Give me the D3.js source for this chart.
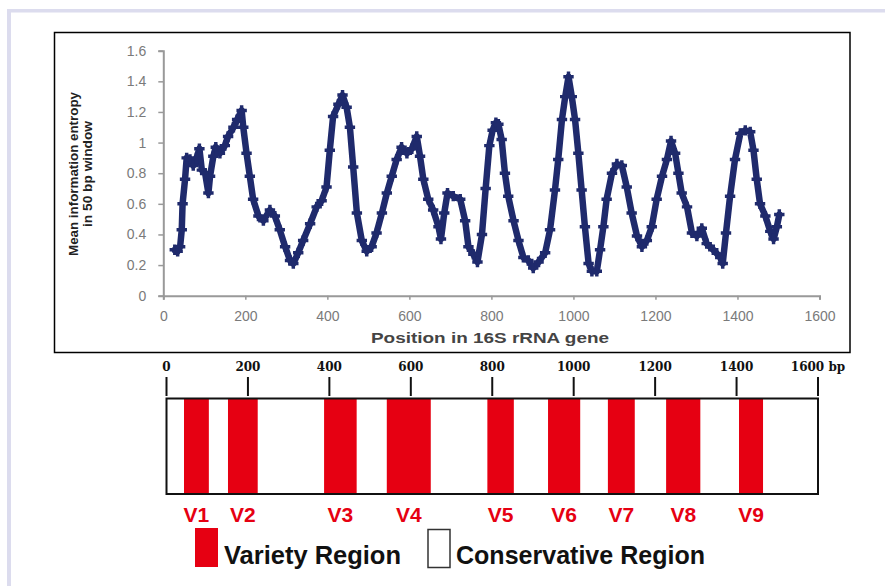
<!DOCTYPE html>
<html>
<head>
<meta charset="utf-8">
<script src="https://cdn.jsdelivr.net/npm/d3@7"></script>
<style>
  body { margin: 0; background: #fff; }
  svg { display: block; }
</style>
</head>
<body>
<div id="chart"></div>
<script>
// entropy curve (position in bp, mean entropy)
var positions = [28, 35, 41, 45, 47, 53, 57, 65, 73, 81, 88, 94, 102, 110, 114, 122, 128, 138, 150, 158,
  171, 180, 191, 195, 203, 211, 219, 232, 244, 260, 272, 284, 297, 309, 317, 329, 341, 358, 374, 386,
  398, 406, 414, 427, 437, 447, 455, 463, 472, 484, 496, 508, 520, 533, 545, 557, 569, 581, 594, 606,
  618, 626, 634, 646, 658, 671, 677, 685, 693, 707, 724, 736, 744, 756, 766, 777, 786, 795, 803, 811,
  817, 825, 833, 841, 854, 866, 878, 890, 902, 915, 931, 943, 955, 963, 972, 980, 988, 996, 1004, 1012,
  1020, 1028, 1037, 1045, 1057, 1065, 1073, 1081, 1094, 1106, 1118, 1130, 1142, 1155, 1167, 1179, 1191, 1203, 1216, 1228,
  1238, 1248, 1256, 1264, 1277, 1289, 1301, 1313, 1325, 1341, 1358, 1364, 1372, 1382, 1394, 1407, 1419, 1431, 1439, 1447,
  1455, 1468, 1480, 1488, 1496, 1502];
var entropy = [0.30, 0.29, 0.32, 0.43, 0.60, 0.76, 0.90, 0.89, 0.85, 0.90, 0.96, 0.82, 0.80, 0.67, 0.78, 0.91, 0.97, 0.93, 0.98, 1.04,
  1.10, 1.15, 1.21, 1.10, 0.93, 0.78, 0.63, 0.52, 0.49, 0.56, 0.52, 0.43, 0.32, 0.23, 0.21, 0.28, 0.36, 0.47, 0.58, 0.62,
  0.71, 0.95, 1.17, 1.25, 1.31, 1.23, 1.10, 0.84, 0.54, 0.36, 0.29, 0.32, 0.41, 0.54, 0.67, 0.78, 0.89, 0.97, 0.93, 0.96,
  1.04, 0.91, 0.76, 0.63, 0.56, 0.45, 0.37, 0.54, 0.67, 0.65, 0.63, 0.49, 0.32, 0.27, 0.22, 0.40, 0.70, 0.98, 1.08, 1.13,
  1.12, 1.02, 0.80, 0.65, 0.49, 0.36, 0.25, 0.23, 0.18, 0.22, 0.28, 0.43, 0.69, 0.89, 1.15, 1.30, 1.43, 1.30, 1.15, 0.93,
  0.69, 0.45, 0.21, 0.16, 0.16, 0.30, 0.45, 0.63, 0.80, 0.86, 0.85, 0.71, 0.54, 0.39, 0.32, 0.36, 0.45, 0.63, 0.78, 0.89,
  1.01, 0.93, 0.80, 0.67, 0.58, 0.41, 0.39, 0.44, 0.34, 0.30, 0.25, 0.21, 0.41, 0.65, 0.89, 1.06, 1.08, 1.07, 0.95, 0.76,
  0.60, 0.52, 0.42, 0.37, 0.45, 0.53];

var xTicks = [0, 200, 400, 600, 800, 1000, 1200, 1400, 1600];
var yTicks = [0, 0.2, 0.4, 0.6, 0.8, 1, 1.2, 1.4, 1.6];
var mapTickLabels = ['0', '200', '400', '600', '800', '1000', '1200', '1400', '1600 bp'];

// variable regions (start, end in bp)
var regionNames = ['V1', 'V2', 'V3', 'V4', 'V5', 'V6', 'V7', 'V8', 'V9'];
var regionStart = [43, 151, 387, 541, 788, 937, 1084, 1227, 1406];
var regionEnd = [104, 224, 467, 649, 853, 1016, 1150, 1311, 1465];

var legendLabels = ['Variety Region', 'Conservative Region'];

var W = 885, H = 586;
var RED = '#e60012', NAVY = '#1f2a6c', GREY = '#7a7a7a';

var svg = d3.select('#chart').append('svg').attr('width', W).attr('height', H);

// lavender page border
svg.append('rect').attr('x', 7).attr('y', 9).attr('width', W - 7).attr('height', 3.5).attr('fill', '#dcdcee');
svg.append('rect').attr('x', 7).attr('y', 9).attr('width', 4).attr('height', H - 9).attr('fill', '#dcdcee');

// upper chart frame
svg.append('rect').attr('x', 54.5).attr('y', 32.5).attr('width', 795.5).attr('height', 320)
  .attr('fill', '#fff').attr('stroke', '#000').attr('stroke-width', 1.5);

var x = d3.scaleLinear().domain([0, 1600]).range([163.3, 819.5]);
var y = d3.scaleLinear().domain([0, 1.6]).range([295.7, 50.7]);

// axes
var gx = svg.append('g').attr('transform', 'translate(0,' + y(0) + ')')
  .call(d3.axisBottom(x).tickValues(xTicks).tickSize(4).tickPadding(11).tickFormat(String));
var gy = svg.append('g').attr('transform', 'translate(' + x(0) + ',0)')
  .call(d3.axisLeft(y).tickValues(yTicks).tickSize(5).tickPadding(12).tickFormat(String));
[gx, gy].forEach(function(g) {
  g.select('.domain').attr('stroke', '#999').attr('stroke-width', 2);
  g.selectAll('.tick line').attr('stroke', '#999').attr('stroke-width', 1.5);
  g.selectAll('.tick text').attr('fill', GREY).style('font-family', 'Liberation Sans, Arial, sans-serif')
    .style('font-size', '14px');
});

// axis titles
svg.append('text').attr('x', 490).attr('y', 343).attr('text-anchor', 'middle')
  .attr('textLength', 238).attr('lengthAdjust', 'spacingAndGlyphs')
  .style('font-family', 'Liberation Sans, Arial, sans-serif').style('font-size', '14px').style('font-weight', 'bold')
  .attr('fill', '#444').text('Position in 16S rRNA gene');

var yTitle = ['Mean information entropy', 'in 50 bp window'];
var yTitleLen = [164, 106];
var yTitleX = [78, 92];
yTitle.forEach(function(t, i) {
  svg.append('text').attr('transform', 'translate(' + yTitleX[i] + ',174) rotate(-90)')
    .attr('text-anchor', 'middle').attr('textLength', yTitleLen[i]).attr('lengthAdjust', 'spacingAndGlyphs')
    .style('font-family', 'Liberation Sans Narrow, Liberation Sans, Arial, sans-serif').style('font-size', '13px')
    .style('font-weight', 'bold').attr('fill', '#222').text(t);
});

// entropy curve: thick line plus cross markers to mimic the dense scatter
var pts = positions.map(function(p, i) { return [p, entropy[i]]; });
var line = d3.line().x(function(d) { return x(d[0]); }).y(function(d) { return y(d[1]); });
svg.append('path').datum(pts).attr('d', line).attr('fill', 'none')
  .attr('stroke', NAVY).attr('stroke-width', 6.5).attr('stroke-linejoin', 'round').attr('stroke-linecap', 'round');
var cross = d3.symbol().type(d3.symbolCross).size(60);
svg.append('g').selectAll('path').data(pts).join('path')
  .attr('transform', function(d) { return 'translate(' + x(d[0]) + ',' + y(d[1]) + ')'; })
  .attr('d', cross).attr('fill', NAVY);

// lower region map
var x2 = d3.scaleLinear().domain([0, 1600]).range([166.5, 818]);
var boxTop = 398.5, boxBottom = 494;

svg.append('g').selectAll('line').data(xTicks).join('line')
  .attr('x1', function(d) { return x2(d); }).attr('x2', function(d) { return x2(d); })
  .attr('y1', 377).attr('y2', 396).attr('stroke', '#111').attr('stroke-width', 2);
svg.append('g').selectAll('text').data(xTicks).join('text')
  .attr('x', function(d) { return x2(d); }).attr('y', 370.5).attr('text-anchor', 'middle')
  .style('font-family', 'DejaVu Serif, serif').style('font-size', '12px').style('font-weight', 'bold')
  .attr('fill', '#111').text(function(d, i) { return mapTickLabels[i]; });

svg.append('rect').attr('x', x2(0)).attr('y', boxTop).attr('width', x2(1600) - x2(0)).attr('height', boxBottom - boxTop)
  .attr('fill', '#fff');
svg.append('g').selectAll('rect').data(regionNames).join('rect')
  .attr('x', function(d, i) { return x2(regionStart[i]); })
  .attr('width', function(d, i) { return x2(regionEnd[i]) - x2(regionStart[i]); })
  .attr('y', boxTop).attr('height', boxBottom - boxTop).attr('fill', RED);
svg.append('rect').attr('x', x2(0)).attr('y', boxTop).attr('width', x2(1600) - x2(0)).attr('height', boxBottom - boxTop)
  .attr('fill', 'none').attr('stroke', '#111').attr('stroke-width', 2);

svg.append('g').selectAll('text').data(regionNames).join('text')
  .attr('x', function(d, i) { return x2((regionStart[i] + regionEnd[i]) / 2); })
  .attr('y', 521.5).attr('text-anchor', 'middle')
  .style('font-family', 'Liberation Sans, Arial, sans-serif').style('font-size', '21px').style('font-weight', 'bold')
  .attr('fill', RED).text(function(d) { return d; });

// legend
svg.append('rect').attr('x', 195).attr('y', 528).attr('width', 23).attr('height', 39).attr('fill', RED);
svg.append('rect').attr('x', 428).attr('y', 529.5).attr('width', 22).attr('height', 38)
  .attr('fill', '#fff').attr('stroke', '#333').attr('stroke-width', 1.5);
var legendX = [224, 456], legendLen = [177, 249];
legendLabels.forEach(function(t, i) {
  svg.append('text').attr('x', legendX[i]).attr('y', 563.5)
    .attr('textLength', legendLen[i]).attr('lengthAdjust', 'spacingAndGlyphs')
    .style('font-family', 'Liberation Sans, Arial, sans-serif').style('font-size', '25px').style('font-weight', 'bold')
    .attr('fill', '#111').text(t);
});
</script>
</body>
</html>
